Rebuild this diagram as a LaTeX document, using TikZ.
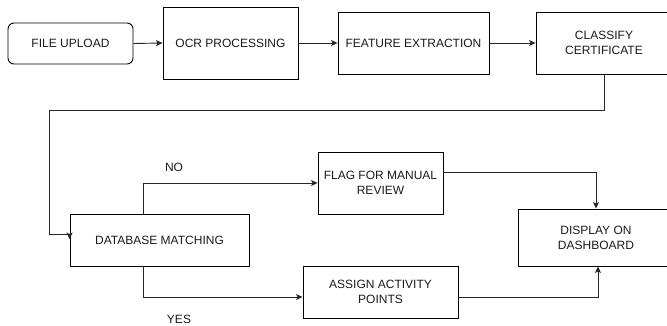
\documentclass[tikz,border=0pt]{standalone}
\usepackage{fontspec}
\setmainfont{Liberation Sans}
\usetikzlibrary{arrows.meta,calc}
\definecolor{txt}{HTML}{1A1A1A}
\begin{document}
\begin{tikzpicture}[x=1pt,y=-1pt,
  box/.style={draw=black,line width=0.9pt,minimum width=#1,align=center,inner sep=0pt,font=\fontsize{12}{15}\selectfont,text=txt},
  conn/.style={draw=black!85,line width=0.9pt,-{Stealth[length=6.5pt,width=6pt,inset=1.5pt]}},
  plain/.style={draw=black!85,line width=0.9pt},
  lbl/.style={font=\fontsize{12}{15}\selectfont,text=txt,inner sep=0pt}]
\useasboundingbox (0,0) rectangle (667,326);
\node[box=125pt,minimum height=41pt,rounded corners=6pt] (upload) at (70.5,43.5) {FILE UPLOAD};
\node[box=135pt,minimum height=72pt] (ocr) at (230.5,43) {OCR PROCESSING};
\node[box=151pt,minimum height=62pt] (feat) at (413.5,43) {FEATURE EXTRACTION};
\node[box=136pt,minimum height=62pt] (cls) at (604,43) {CLASSIFY\\CERTIFICATE};
\node[box=179pt,minimum height=52pt] (db) at (159.5,240) {DATABASE MATCHING};
\node[box=125pt,minimum height=62pt] (flag) at (380.5,183) {FLAG FOR MANUAL\\REVIEW};
\node[box=155pt,minimum height=52pt] (assign) at (380.5,292) {ASSIGN ACTIVITY\\POINTS};
\node[box=156pt,minimum height=57pt] (disp) at (596,237.5) {DISPLAY ON\\DASHBOARD};
\node[lbl] (no) at (174,167) {NO};
\node[lbl] (yes) at (179,319) {YES};
% top row
\draw[conn] (upload.east) -- (ocr.west);
\draw[conn] (ocr.east) -- (feat.west);
\draw[conn] (feat.east) -- (cls.west);
% classify to database
\coordinate (turn) at (49,110);
\coordinate (dbin) at ($(db.north west)+(0,21)$);
\draw[plain] (cls.south) |- (turn) |- (dbin);
\path[conn] ($(dbin)+(0,-1)$) -- ($(dbin)+(0,4.5)$);
% NO branch
\coordinate (noout) at ($(db.north)+(-16.5,0)$);
\coordinate (flagin) at (flag.west);
\draw[conn] (noout) |- (flagin);
% YES branch
\coordinate (yesout) at ($(db.south)+(-16.5,0)$);
\coordinate (assignin) at ($(assign.west)+(0,5)$);
\draw[conn] (yesout) |- (assignin);
% to display
\coordinate (flagout) at ($(flag.east)+(0,-11)$);
\draw[conn] (flagout) -| (disp.north);
\coordinate (assignout) at ($(assign.east)+(0,5)$);
\coordinate (dispin) at ($(disp.south)+(2,0)$);
\draw[conn] (assignout) -| (dispin);
\end{tikzpicture}
\end{document}
